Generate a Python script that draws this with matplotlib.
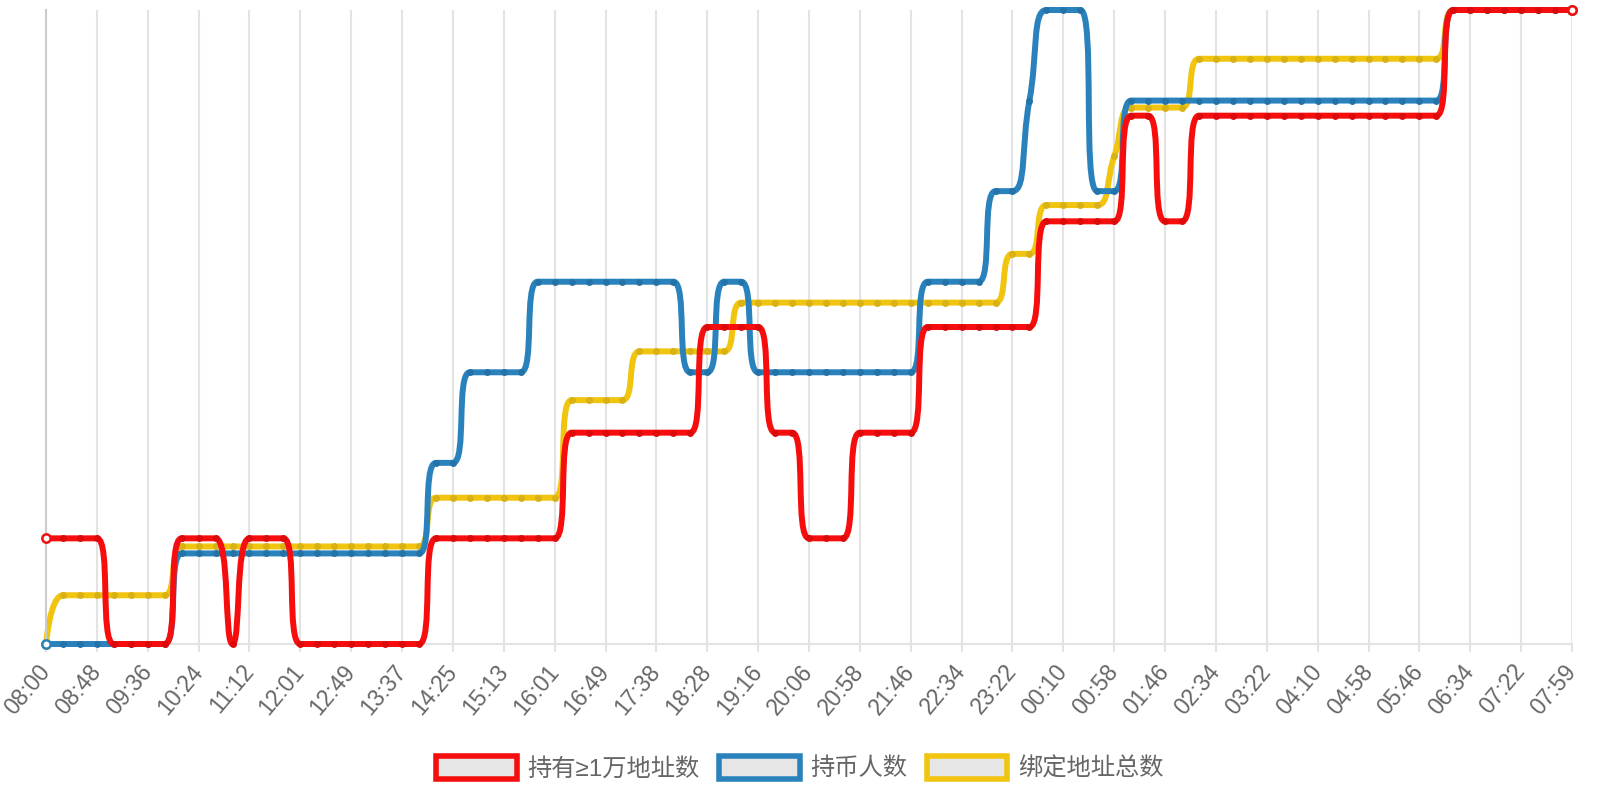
import numpy as np
import matplotlib
matplotlib.use('Agg')
import matplotlib.pyplot as plt
from matplotlib.path import Path
from matplotlib.patches import PathPatch, Rectangle

# data: one point every 16 minutes, 08:00 -> 07:59 next day
tick_labels = ['08:00', '08:48', '09:36', '10:24', '11:12', '12:01', '12:49', '13:37',
               '14:25', '15:13', '16:01', '16:49', '17:38', '18:28', '19:16', '20:06',
               '20:58', '21:46', '22:34', '23:22', '00:10', '00:58', '01:46', '02:34',
               '03:22', '04:10', '04:58', '05:46', '06:34', '07:22', '07:59']
tick_every = 3

holders_10k = ([1] * 4 + [0] * 4 + [1] * 3 + [0] + [1] * 3 + [0] * 8 + [1] * 8 + [2] * 8 +
               [3] * 4 + [2] * 2 + [1] * 3 + [2] * 4 + [3] * 7 + [4] * 5 + [5] * 2 +
               [4] * 2 + [5] * 15 + [6] * 8)
holders = ([0] * 8 + [1] * 15 + [2] * 2 + [3] * 4 + [4] * 9 + [3] * 2 + [4] * 2 + [3] * 10 +
           [4] * 4 + [5] * 2 + [6] + [7] * 3 + [5] * 2 + [6] * 19 + [7] * 8)
bound_addr = ([0] + [1] * 7 + [2] * 15 + [3] * 8 + [5] * 4 + [6] * 6 + [7] * 16 + [8] * 2 +
              [9] * 4 + [10] + [11] * 4 + [12] * 15 + [13] * 8)

series_names = ['持有≥1万地址数', '持币人数', '绑定地址总数']
series_data = [holders_10k, holders, bound_addr]
colors = ['#f60d0d', '#2a82bd', '#f1c40f']
dot_colors = ['#dc0a0a', '#2373a9', '#d8b114']

plt.rcParams['font.family'] = ['Liberation Sans', 'DejaVu Sans']
cjk = ['Liberation Sans', 'Noto Sans CJK SC', 'DejaVu Sans']


def smooth_bezier(pts, smooth=0.5):
    """echarts-like smooth line (control points clamped between neighbours)"""
    verts = [tuple(pts[0])]
    codes = [Path.MOVETO]
    cp0 = pts[0].copy()
    n = len(pts)
    for k in range(1, n):
        x, y = pts[k]
        px, py = pts[k - 1]
        if k == n - 1:
            cp1 = np.array([x, y])
            ncp0 = np.array([x, y])
        else:
            nx, ny = pts[k + 1]
            vx, vy = nx - px, ny - py
            d0 = np.hypot(x - px, y - py)
            d1 = np.hypot(nx - x, ny - y)
            r = d1 / (d0 + d1)
            cx = x + vx * smooth * r
            cy = y + vy * smooth * r
            cx = min(max(cx, min(nx, x)), max(nx, x))
            cy = min(max(cy, min(ny, y)), max(ny, y))
            vx, vy = cx - x, cy - y
            c1x = x - vx * d0 / d1
            c1y = y - vy * d0 / d1
            c1x = min(max(c1x, min(px, x)), max(px, x))
            c1y = min(max(c1y, min(py, y)), max(py, y))
            vx, vy = x - c1x, y - c1y
            cp1 = np.array([c1x, c1y])
            ncp0 = np.array([x + vx * d1 / d0, y + vy * d1 / d0])
        verts += [tuple(cp0), tuple(cp1), (x, y)]
        codes += [Path.CURVE4] * 3
        cp0 = ncp0
    return np.array(verts), codes


fig = plt.figure(figsize=(16, 8), dpi=100, facecolor='white')
left, right, bottom, top = 46 / 1600, 1572 / 1600, 1 - 644 / 800, 1 - 10 / 800
ax = fig.add_axes([left, bottom, right - left, top - bottom])
ax_b = ax.twinx()
ax_r = ax.twinx()
axes = [ax_r, ax_b, ax]  # same order as series

n = len(holders)
x = np.arange(n)
ax.set_xlim(0, n - 1)
for a, vals in zip(axes, series_data):
    a.set_ylim(0, max(vals))

# base axis styling
ax.set_axisbelow(True)
ax.grid(axis='x', color='#e3e3e3', linewidth=1.5)
ax.grid(axis='y', visible=False)
for s in ['top', 'right']:
    ax.spines[s].set_visible(False)
ax.spines['left'].set_color('#cccccc')
ax.spines['left'].set_linewidth(1.5)
ax.spines['bottom'].set_color('#e3e3e3')
ax.spines['bottom'].set_linewidth(1.5)
ax.set_yticks([])
ax.set_xticks(x[::tick_every])
ax.set_xticklabels(tick_labels)
ax.tick_params(axis='x', length=6, width=1.5, color='#e3e3e3', labelcolor='#666666',
               labelsize=16.5, pad=11)
plt.setp(ax.get_xticklabels(), rotation=50, ha='right', va='center', rotation_mode='anchor')
for a in [ax_b, ax_r]:
    a.set_axis_off()

zorders = [6, 4, 2]
for a, vals, c, dc, z in zip(axes, series_data, colors, dot_colors, zorders):
    disp = a.transData.transform(np.column_stack([x, vals]))
    verts, codes = smooth_bezier(disp)
    verts = a.transData.inverted().transform(verts)
    a.add_patch(PathPatch(Path(verts, codes), fill=False, edgecolor=c, linewidth=4.3,
                          capstyle='round', joinstyle='round', zorder=z, clip_on=False))
    a.plot(x[1:-1], vals[1:-1], 'o', ms=5, color=dc, mew=0, zorder=z + 0.5, clip_on=False)
    a.plot(x[[0, -1]], [vals[0], vals[-1]], 'o', ms=6, mfc='white', mec=c, mew=1.8,
           zorder=z + 0.5, clip_on=False)

handles = [Rectangle((0, 0), 1, 1, facecolor='#e6e6e6', edgecolor=c, linewidth=4)
           for c in colors]
leg = fig.legend(handles, series_names, loc='center', bbox_to_anchor=(0.5, 0.04), ncol=3,
                 frameon=False, handlelength=3.3, handleheight=1.1, handletextpad=0.45,
                 columnspacing=0.8, prop={'family': cjk, 'size': 17.5})
for t in leg.get_texts():
    t.set_color('#666666')

fig.savefig('out.png', dpi=100)
